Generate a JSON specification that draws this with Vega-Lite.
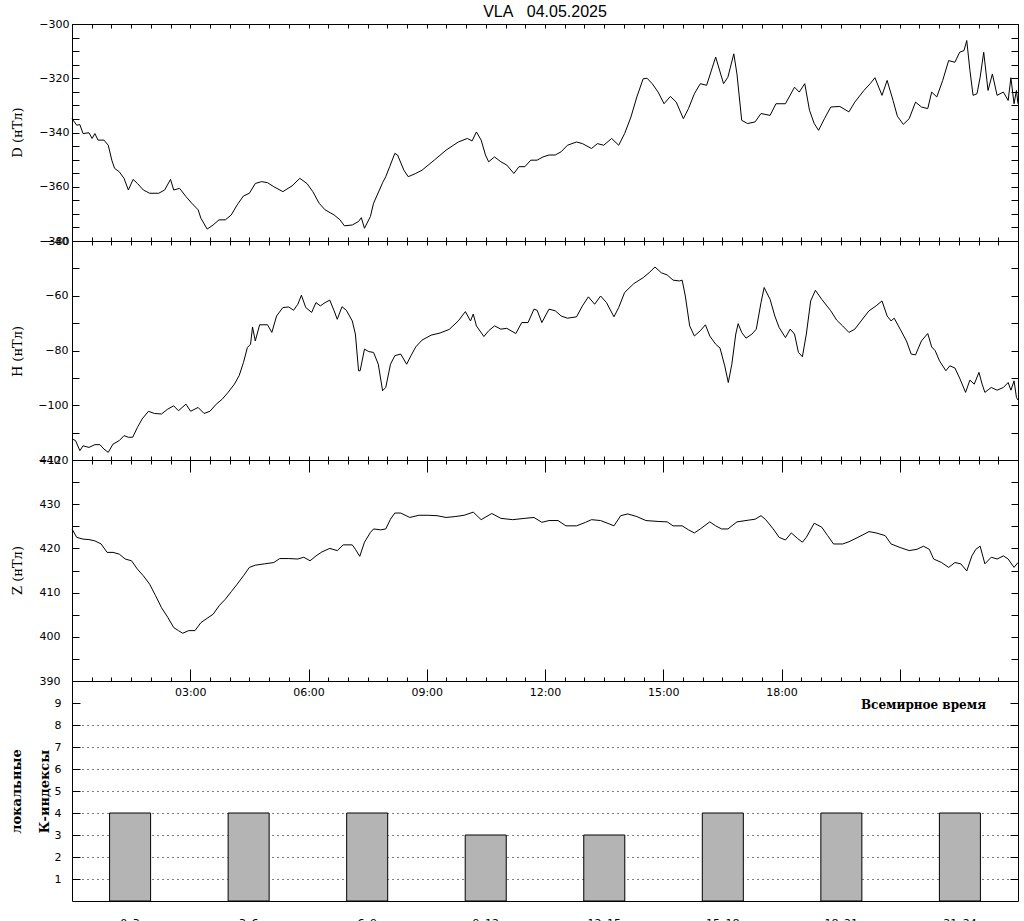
{
"$schema": "https://vega.github.io/schema/vega-lite/v6.json",
"autosize": {"type": "pad"},
"padding": {"left": 9, "top": 3, "right": 7, "bottom": 0},
"background": "white",
"title": {"text": "VLA\u00a0\u00a0\u00a004.05.2025", "anchor": "middle", "frame": "group", "font": "Liberation Sans", "fontSize": 16, "fontWeight": "normal", "color": "black", "offset": -2},
"spacing": 0,
"bounds": "flush",
"datasets": {
"D": [{"t":0.00,"v":-334.9},{"t":0.12,"v":-337.3},{"t":0.20,"v":-337.1},{"t":0.28,"v":-340.4},{"t":0.43,"v":-340.1},{"t":0.51,"v":-342.2},{"t":0.58,"v":-340.4},{"t":0.66,"v":-342.8},{"t":0.81,"v":-342.8},{"t":0.92,"v":-344.7},{"t":1.01,"v":-350.2},{"t":1.08,"v":-353.2},{"t":1.20,"v":-354.5},{"t":1.32,"v":-356.9},{"t":1.43,"v":-361.2},{"t":1.55,"v":-357.3},{"t":1.66,"v":-358.8},{"t":1.81,"v":-361.2},{"t":1.97,"v":-362.4},{"t":2.20,"v":-362.4},{"t":2.35,"v":-361.2},{"t":2.50,"v":-357.3},{"t":2.58,"v":-361.2},{"t":2.73,"v":-360.6},{"t":2.89,"v":-363.6},{"t":3.04,"v":-366.1},{"t":3.20,"v":-368.5},{"t":3.27,"v":-371.6},{"t":3.43,"v":-375.6},{"t":3.58,"v":-374.1},{"t":3.73,"v":-372.2},{"t":3.89,"v":-372.2},{"t":4.04,"v":-370.4},{"t":4.19,"v":-366.7},{"t":4.35,"v":-363.4},{"t":4.50,"v":-362.4},{"t":4.65,"v":-358.8},{"t":4.81,"v":-358.1},{"t":4.96,"v":-358.5},{"t":5.12,"v":-360.0},{"t":5.35,"v":-361.8},{"t":5.58,"v":-359.7},{"t":5.78,"v":-356.9},{"t":5.96,"v":-358.8},{"t":6.11,"v":-361.8},{"t":6.27,"v":-366.1},{"t":6.42,"v":-368.5},{"t":6.65,"v":-370.4},{"t":6.80,"v":-372.2},{"t":6.91,"v":-374.4},{"t":7.11,"v":-374.1},{"t":7.27,"v":-372.8},{"t":7.34,"v":-371.4},{"t":7.42,"v":-375.3},{"t":7.57,"v":-371.0},{"t":7.65,"v":-366.1},{"t":7.80,"v":-361.2},{"t":7.88,"v":-358.5},{"t":7.96,"v":-356.3},{"t":8.06,"v":-352.6},{"t":8.19,"v":-347.7},{"t":8.26,"v":-348.3},{"t":8.42,"v":-353.9},{"t":8.53,"v":-356.3},{"t":8.72,"v":-355.1},{"t":8.88,"v":-353.9},{"t":9.19,"v":-350.2},{"t":9.49,"v":-346.5},{"t":9.80,"v":-343.5},{"t":10.03,"v":-342.2},{"t":10.15,"v":-343.1},{"t":10.26,"v":-339.8},{"t":10.38,"v":-342.8},{"t":10.49,"v":-348.3},{"t":10.57,"v":-350.8},{"t":10.72,"v":-349.0},{"t":10.88,"v":-350.8},{"t":11.03,"v":-352.0},{"t":11.21,"v":-355.1},{"t":11.34,"v":-352.6},{"t":11.49,"v":-352.6},{"t":11.64,"v":-350.2},{"t":11.80,"v":-350.2},{"t":11.95,"v":-349.0},{"t":12.10,"v":-348.3},{"t":12.26,"v":-348.3},{"t":12.41,"v":-347.1},{"t":12.57,"v":-344.7},{"t":12.80,"v":-343.5},{"t":12.95,"v":-344.1},{"t":13.18,"v":-345.9},{"t":13.33,"v":-344.1},{"t":13.49,"v":-344.7},{"t":13.69,"v":-342.2},{"t":13.87,"v":-344.7},{"t":14.02,"v":-340.4},{"t":14.18,"v":-334.3},{"t":14.33,"v":-326.9},{"t":14.49,"v":-320.2},{"t":14.59,"v":-320.0},{"t":14.72,"v":-322.0},{"t":14.87,"v":-325.1},{"t":15.02,"v":-329.4},{"t":15.18,"v":-326.7},{"t":15.33,"v":-328.8},{"t":15.51,"v":-334.9},{"t":15.64,"v":-331.2},{"t":15.79,"v":-325.7},{"t":15.94,"v":-322.0},{"t":16.10,"v":-322.6},{"t":16.33,"v":-312.2},{"t":16.53,"v":-322.0},{"t":16.64,"v":-319.6},{"t":16.79,"v":-311.0},{"t":16.87,"v":-318.4},{"t":16.99,"v":-335.5},{"t":17.14,"v":-336.7},{"t":17.33,"v":-336.1},{"t":17.48,"v":-333.0},{"t":17.71,"v":-333.7},{"t":17.86,"v":-329.4},{"t":18.10,"v":-329.4},{"t":18.33,"v":-323.3},{"t":18.45,"v":-325.1},{"t":18.59,"v":-322.0},{"t":18.71,"v":-331.8},{"t":18.83,"v":-336.7},{"t":18.94,"v":-339.2},{"t":19.09,"v":-334.9},{"t":19.25,"v":-330.6},{"t":19.48,"v":-330.4},{"t":19.71,"v":-332.4},{"t":19.86,"v":-328.8},{"t":20.09,"v":-324.5},{"t":20.25,"v":-322.0},{"t":20.37,"v":-319.8},{"t":20.55,"v":-326.3},{"t":20.68,"v":-320.8},{"t":20.83,"v":-328.2},{"t":20.94,"v":-334.0},{"t":21.09,"v":-337.0},{"t":21.24,"v":-334.9},{"t":21.40,"v":-328.8},{"t":21.55,"v":-330.6},{"t":21.71,"v":-331.2},{"t":21.81,"v":-325.1},{"t":21.94,"v":-326.9},{"t":22.09,"v":-320.8},{"t":22.24,"v":-313.5},{"t":22.40,"v":-314.1},{"t":22.52,"v":-310.4},{"t":22.63,"v":-309.8},{"t":22.70,"v":-306.1},{"t":22.78,"v":-317.1},{"t":22.86,"v":-326.3},{"t":22.96,"v":-325.7},{"t":23.04,"v":-319.6},{"t":23.13,"v":-310.4},{"t":23.24,"v":-324.5},{"t":23.35,"v":-318.4},{"t":23.47,"v":-326.3},{"t":23.63,"v":-325.1},{"t":23.75,"v":-328.2},{"t":23.82,"v":-319.8},{"t":23.90,"v":-329.4},{"t":23.96,"v":-324.5},{"t":24.00,"v":-329.4}],
"H": [{"t":0.00,"v":-112.3},{"t":0.09,"v":-112.9},{"t":0.20,"v":-116.6},{"t":0.28,"v":-114.8},{"t":0.43,"v":-115.4},{"t":0.58,"v":-114.4},{"t":0.71,"v":-114.4},{"t":0.81,"v":-116.0},{"t":0.92,"v":-117.2},{"t":1.04,"v":-114.2},{"t":1.20,"v":-112.9},{"t":1.32,"v":-111.1},{"t":1.43,"v":-111.7},{"t":1.54,"v":-111.7},{"t":1.66,"v":-108.1},{"t":1.78,"v":-105.0},{"t":1.94,"v":-102.2},{"t":2.09,"v":-103.0},{"t":2.27,"v":-103.2},{"t":2.43,"v":-101.4},{"t":2.58,"v":-100.2},{"t":2.70,"v":-102.0},{"t":2.89,"v":-99.6},{"t":3.01,"v":-102.2},{"t":3.20,"v":-100.8},{"t":3.35,"v":-103.0},{"t":3.50,"v":-102.2},{"t":3.66,"v":-99.6},{"t":3.81,"v":-97.8},{"t":3.96,"v":-95.3},{"t":4.12,"v":-92.3},{"t":4.24,"v":-89.2},{"t":4.35,"v":-84.4},{"t":4.45,"v":-78.9},{"t":4.53,"v":-77.7},{"t":4.58,"v":-71.4},{"t":4.65,"v":-76.5},{"t":4.76,"v":-70.6},{"t":4.96,"v":-70.6},{"t":5.07,"v":-73.4},{"t":5.19,"v":-67.4},{"t":5.35,"v":-64.3},{"t":5.50,"v":-64.1},{"t":5.62,"v":-65.3},{"t":5.73,"v":-63.1},{"t":5.82,"v":-59.8},{"t":5.93,"v":-64.3},{"t":6.08,"v":-66.1},{"t":6.19,"v":-62.5},{"t":6.30,"v":-63.7},{"t":6.42,"v":-62.5},{"t":6.54,"v":-61.6},{"t":6.65,"v":-65.5},{"t":6.73,"v":-68.6},{"t":6.85,"v":-64.0},{"t":6.96,"v":-65.3},{"t":7.11,"v":-69.2},{"t":7.19,"v":-74.0},{"t":7.27,"v":-87.4},{"t":7.31,"v":-87.4},{"t":7.42,"v":-79.5},{"t":7.53,"v":-80.4},{"t":7.65,"v":-80.7},{"t":7.77,"v":-85.0},{"t":7.88,"v":-94.7},{"t":7.96,"v":-93.5},{"t":8.08,"v":-85.0},{"t":8.19,"v":-81.9},{"t":8.34,"v":-81.3},{"t":8.49,"v":-85.0},{"t":8.60,"v":-81.9},{"t":8.72,"v":-78.7},{"t":8.88,"v":-76.2},{"t":9.11,"v":-74.4},{"t":9.34,"v":-73.6},{"t":9.57,"v":-72.3},{"t":9.80,"v":-69.2},{"t":9.98,"v":-65.8},{"t":10.11,"v":-69.2},{"t":10.18,"v":-66.7},{"t":10.26,"v":-71.0},{"t":10.45,"v":-74.9},{"t":10.57,"v":-72.8},{"t":10.72,"v":-71.0},{"t":10.88,"v":-72.2},{"t":11.03,"v":-71.9},{"t":11.26,"v":-73.8},{"t":11.41,"v":-69.8},{"t":11.57,"v":-69.8},{"t":11.72,"v":-64.9},{"t":11.80,"v":-65.3},{"t":11.92,"v":-69.8},{"t":12.10,"v":-64.9},{"t":12.26,"v":-65.5},{"t":12.41,"v":-67.4},{"t":12.57,"v":-68.2},{"t":12.80,"v":-67.7},{"t":12.95,"v":-63.7},{"t":13.10,"v":-60.4},{"t":13.26,"v":-63.1},{"t":13.41,"v":-60.1},{"t":13.56,"v":-62.5},{"t":13.75,"v":-67.7},{"t":13.87,"v":-64.3},{"t":14.02,"v":-58.8},{"t":14.25,"v":-55.6},{"t":14.49,"v":-53.4},{"t":14.64,"v":-51.6},{"t":14.79,"v":-49.5},{"t":14.95,"v":-51.6},{"t":15.10,"v":-52.4},{"t":15.25,"v":-54.3},{"t":15.41,"v":-54.6},{"t":15.48,"v":-54.3},{"t":15.56,"v":-60.1},{"t":15.67,"v":-71.0},{"t":15.79,"v":-74.7},{"t":15.94,"v":-72.8},{"t":16.07,"v":-70.6},{"t":16.18,"v":-74.7},{"t":16.33,"v":-77.7},{"t":16.44,"v":-79.1},{"t":16.56,"v":-85.6},{"t":16.65,"v":-91.7},{"t":16.74,"v":-85.0},{"t":16.84,"v":-74.0},{"t":16.90,"v":-70.2},{"t":16.99,"v":-73.4},{"t":17.10,"v":-75.5},{"t":17.25,"v":-74.0},{"t":17.36,"v":-72.2},{"t":17.48,"v":-62.5},{"t":17.56,"v":-57.0},{"t":17.71,"v":-61.3},{"t":17.83,"v":-67.4},{"t":17.94,"v":-71.6},{"t":18.10,"v":-75.3},{"t":18.22,"v":-72.2},{"t":18.33,"v":-74.0},{"t":18.43,"v":-80.7},{"t":18.53,"v":-82.3},{"t":18.63,"v":-74.0},{"t":18.74,"v":-61.9},{"t":18.86,"v":-58.0},{"t":19.02,"v":-61.3},{"t":19.25,"v":-65.5},{"t":19.40,"v":-68.9},{"t":19.55,"v":-71.0},{"t":19.71,"v":-73.4},{"t":19.86,"v":-72.2},{"t":20.02,"v":-69.2},{"t":20.22,"v":-65.5},{"t":20.40,"v":-63.7},{"t":20.55,"v":-61.9},{"t":20.68,"v":-67.4},{"t":20.78,"v":-69.2},{"t":20.86,"v":-68.2},{"t":21.01,"v":-72.2},{"t":21.17,"v":-76.5},{"t":21.29,"v":-81.3},{"t":21.40,"v":-81.6},{"t":21.55,"v":-76.5},{"t":21.71,"v":-73.8},{"t":21.81,"v":-78.7},{"t":21.90,"v":-80.1},{"t":22.01,"v":-83.8},{"t":22.17,"v":-87.4},{"t":22.27,"v":-85.6},{"t":22.40,"v":-86.4},{"t":22.52,"v":-90.1},{"t":22.67,"v":-95.3},{"t":22.78,"v":-90.8},{"t":22.89,"v":-92.3},{"t":23.01,"v":-88.0},{"t":23.09,"v":-92.3},{"t":23.16,"v":-95.3},{"t":23.32,"v":-93.5},{"t":23.47,"v":-94.5},{"t":23.63,"v":-93.5},{"t":23.75,"v":-91.7},{"t":23.82,"v":-94.5},{"t":23.90,"v":-91.1},{"t":23.96,"v":-97.1},{"t":24.00,"v":-98.1}],
"Z": [{"t":0.00,"v":424.4},{"t":0.12,"v":422.5},{"t":0.28,"v":422.1},{"t":0.43,"v":422.0},{"t":0.58,"v":421.7},{"t":0.74,"v":421.0},{"t":0.89,"v":419.1},{"t":1.04,"v":419.1},{"t":1.20,"v":418.7},{"t":1.35,"v":417.6},{"t":1.51,"v":417.2},{"t":1.66,"v":415.3},{"t":1.81,"v":413.8},{"t":1.97,"v":411.9},{"t":2.12,"v":409.3},{"t":2.27,"v":406.6},{"t":2.43,"v":404.4},{"t":2.58,"v":402.1},{"t":2.70,"v":401.4},{"t":2.81,"v":400.8},{"t":2.96,"v":401.4},{"t":3.12,"v":401.4},{"t":3.27,"v":403.2},{"t":3.43,"v":404.2},{"t":3.58,"v":405.1},{"t":3.73,"v":407.0},{"t":3.89,"v":408.5},{"t":4.04,"v":410.2},{"t":4.19,"v":411.9},{"t":4.35,"v":413.8},{"t":4.50,"v":415.7},{"t":4.65,"v":416.2},{"t":4.88,"v":416.5},{"t":5.12,"v":416.8},{"t":5.27,"v":417.7},{"t":5.50,"v":417.7},{"t":5.73,"v":417.6},{"t":5.88,"v":418.0},{"t":6.04,"v":417.2},{"t":6.19,"v":418.3},{"t":6.34,"v":419.2},{"t":6.54,"v":420.0},{"t":6.73,"v":419.5},{"t":6.88,"v":420.8},{"t":7.11,"v":420.8},{"t":7.19,"v":419.8},{"t":7.30,"v":418.2},{"t":7.42,"v":421.4},{"t":7.57,"v":423.6},{"t":7.65,"v":424.4},{"t":7.83,"v":424.2},{"t":7.96,"v":424.4},{"t":8.08,"v":426.6},{"t":8.19,"v":428.0},{"t":8.34,"v":428.0},{"t":8.57,"v":427.0},{"t":8.80,"v":427.5},{"t":9.03,"v":427.5},{"t":9.26,"v":427.4},{"t":9.49,"v":427.0},{"t":9.72,"v":427.2},{"t":9.95,"v":427.5},{"t":10.18,"v":428.2},{"t":10.38,"v":426.5},{"t":10.65,"v":427.9},{"t":10.88,"v":426.8},{"t":11.18,"v":426.5},{"t":11.49,"v":426.8},{"t":11.72,"v":427.0},{"t":11.92,"v":425.9},{"t":12.10,"v":426.3},{"t":12.33,"v":426.3},{"t":12.53,"v":425.1},{"t":12.80,"v":425.1},{"t":13.03,"v":425.9},{"t":13.18,"v":426.5},{"t":13.41,"v":426.3},{"t":13.64,"v":425.5},{"t":13.75,"v":425.1},{"t":13.92,"v":427.4},{"t":14.10,"v":427.8},{"t":14.33,"v":427.2},{"t":14.56,"v":426.3},{"t":14.87,"v":426.1},{"t":15.10,"v":426.0},{"t":15.25,"v":425.1},{"t":15.48,"v":425.1},{"t":15.64,"v":424.2},{"t":15.79,"v":423.5},{"t":15.94,"v":424.4},{"t":16.18,"v":426.0},{"t":16.33,"v":425.1},{"t":16.48,"v":424.4},{"t":16.64,"v":424.4},{"t":16.87,"v":426.0},{"t":17.17,"v":426.4},{"t":17.33,"v":426.6},{"t":17.48,"v":427.4},{"t":17.60,"v":426.5},{"t":17.79,"v":424.4},{"t":17.94,"v":422.5},{"t":18.10,"v":421.9},{"t":18.25,"v":423.5},{"t":18.40,"v":422.3},{"t":18.53,"v":421.4},{"t":18.63,"v":422.5},{"t":18.83,"v":425.7},{"t":19.02,"v":424.8},{"t":19.17,"v":422.9},{"t":19.32,"v":421.0},{"t":19.55,"v":421.0},{"t":19.71,"v":421.5},{"t":19.94,"v":422.5},{"t":20.22,"v":423.8},{"t":20.40,"v":423.5},{"t":20.63,"v":422.9},{"t":20.78,"v":421.0},{"t":21.01,"v":420.2},{"t":21.24,"v":419.5},{"t":21.44,"v":419.8},{"t":21.60,"v":420.5},{"t":21.75,"v":419.8},{"t":21.86,"v":417.6},{"t":22.06,"v":416.8},{"t":22.24,"v":415.7},{"t":22.40,"v":416.8},{"t":22.55,"v":416.5},{"t":22.70,"v":414.9},{"t":22.83,"v":418.3},{"t":22.93,"v":419.8},{"t":23.04,"v":420.5},{"t":23.16,"v":416.5},{"t":23.32,"v":418.0},{"t":23.47,"v":417.6},{"t":23.63,"v":418.3},{"t":23.75,"v":417.6},{"t":23.86,"v":416.2},{"t":23.90,"v":415.7},{"t":24.00,"v":416.8}],
"K": [{"p":"0–3","k":4},{"p":"3–6","k":4},{"p":"6–9","k":4},{"p":"9–12","k":3},{"p":"12–15","k":3},{"p":"15–18","k":4},{"p":"18–21","k":4},{"p":"21–24","k":4}]
},
"vconcat": [
{
"width": 946, "height": 217,
"data": {"name": "D"},
"layer": [
{"mark": {"type": "line"},
 "encoding": {
  "x": {"field": "t", "type": "quantitative", "scale": {"domain": [0, 24], "nice": false, "zero": false},
        "axis": {"orient": "bottom", "values": [0,0.5,1,1.5,2,2.5,3,3.5,4,4.5,5,5.5,6,6.5,7,7.5,8,8.5,9,9.5,10,10.5,11,11.5,12,12.5,13,13.5,14,14.5,15,15.5,16,16.5,17,17.5,18,18.5,19,19.5,20,20.5,21,21.5,22,22.5,23,23.5,24], "labels": false, "tickSize": -4, "title": null}},
  "y": {"field": "v", "type": "quantitative", "scale": {"domain": [-380, -300], "nice": false, "zero": false},
        "axis": {"orient": "left", "values": [-380,-375,-370,-365,-360,-355,-350,-345,-340,-335,-330,-325,-320,-315,-310,-305,-300], "tickSize": -7, "labelPadding": 10, "labelExpr": "datum.value % 20 === 0 ? datum.label : ''", "title": "D (нТл)", "titleFont": "DejaVu Serif", "titleFontSize": 13, "titleFontWeight": "normal", "titleX": -48, "titleY": 108, "titleAngle": -90, "titleBaseline": "bottom", "titleAlign": "center"}}
 }},
{"mark": {"type": "line", "strokeOpacity": 0},
 "encoding": {
  "x": {"field": "t", "type": "quantitative", "scale": {"domain": [0, 24], "nice": false, "zero": false},
        "axis": {"orient": "top", "values": [0,0.5,1,1.5,2,2.5,3,3.5,4,4.5,5,5.5,6,6.5,7,7.5,8,8.5,9,9.5,10,10.5,11,11.5,12,12.5,13,13.5,14,14.5,15,15.5,16,16.5,17,17.5,18,18.5,19,19.5,20,20.5,21,21.5,22,22.5,23,23.5,24], "labels": false, "tickSize": -4, "title": null}},
  "y": {"field": "v", "type": "quantitative", "scale": {"domain": [-380, -300], "nice": false, "zero": false},
        "axis": {"orient": "right", "values": [-380,-375,-370,-365,-360,-355,-350,-345,-340,-335,-330,-325,-320,-315,-310,-305,-300], "tickSize": -7, "labels": false, "title": null}}
 }}
],
"resolve": {"axis": {"x": "independent", "y": "independent"}}
},
{
"width": 946, "height": 219,
"data": {"name": "H"},
"layer": [
{"mark": {"type": "line"},
 "encoding": {
  "x": {"field": "t", "type": "quantitative", "scale": {"domain": [0, 24], "nice": false, "zero": false},
        "axis": {"orient": "bottom", "values": [0,0.5,1,1.5,2,2.5,3,3.5,4,4.5,5,5.5,6,6.5,7,7.5,8,8.5,9,9.5,10,10.5,11,11.5,12,12.5,13,13.5,14,14.5,15,15.5,16,16.5,17,17.5,18,18.5,19,19.5,20,20.5,21,21.5,22,22.5,23,23.5,24], "labels": false, "tickSize": -4, "title": null}},
  "y": {"field": "v", "type": "quantitative", "scale": {"domain": [-120, -40], "nice": false, "zero": false},
        "axis": {"orient": "left", "values": [-120,-110,-100,-90,-80,-70,-60,-50,-40], "tickSize": -7, "labelPadding": 11, "labelExpr": "datum.value % 20 === 0 ? datum.label : ''", "title": "H (нТл)", "titleFont": "DejaVu Serif", "titleFontSize": 13, "titleFontWeight": "normal", "titleX": -48, "titleY": 110, "titleAngle": -90, "titleBaseline": "bottom", "titleAlign": "center"}}
 }},
{"mark": {"type": "line", "strokeOpacity": 0},
 "encoding": {
  "x": {"field": "t", "type": "quantitative", "scale": {"domain": [0, 24], "nice": false, "zero": false},
        "axis": {"orient": "top", "values": [0,0.5,1,1.5,2,2.5,3,3.5,4,4.5,5,5.5,6,6.5,7,7.5,8,8.5,9,9.5,10,10.5,11,11.5,12,12.5,13,13.5,14,14.5,15,15.5,16,16.5,17,17.5,18,18.5,19,19.5,20,20.5,21,21.5,22,22.5,23,23.5,24], "labels": false, "tickSize": -4, "title": null}},
  "y": {"field": "v", "type": "quantitative", "scale": {"domain": [-120, -40], "nice": false, "zero": false},
        "axis": {"orient": "right", "values": [-120,-110,-100,-90,-80,-70,-60,-50,-40], "tickSize": -7, "labels": false, "title": null}}
 }}
],
"resolve": {"axis": {"x": "independent", "y": "independent"}}
},
{
"width": 946, "height": 221,
"data": {"name": "Z"},
"layer": [
{"mark": {"type": "line"},
 "encoding": {
  "x": {"field": "t", "type": "quantitative", "scale": {"domain": [0, 24], "nice": false, "zero": false},
        "axis": {"orient": "bottom", "values": [0,0.5,1,1.5,2,2.5,3,3.5,4,4.5,5,5.5,6,6.5,7,7.5,8,8.5,9,9.5,10,10.5,11,11.5,12,12.5,13,13.5,14,14.5,15,15.5,16,16.5,17,17.5,18,18.5,19,19.5,20,20.5,21,21.5,22,22.5,23,23.5,24], "labels": false, "tickSize": -4, "title": null}},
  "y": {"field": "v", "type": "quantitative", "scale": {"domain": [390, 440], "nice": false, "zero": false},
        "axis": {"orient": "left", "values": [390,395,400,405,410,415,420,425,430,435,440], "tickSize": -7, "labelPadding": 19, "labelExpr": "datum.value % 10 === 0 ? datum.label : ''", "title": "Z (нТл)", "titleFont": "DejaVu Serif", "titleFontSize": 13, "titleFontWeight": "normal", "titleX": -48, "titleY": 110, "titleAngle": -90, "titleBaseline": "bottom", "titleAlign": "center"}}
 }},
{"mark": {"type": "line", "strokeOpacity": 0},
 "encoding": {
  "x": {"field": "t", "type": "quantitative", "scale": {"domain": [0, 24], "nice": false, "zero": false},
        "axis": {"orient": "top", "values": [0,0.5,1,1.5,2,2.5,3,3.5,4,4.5,5,5.5,6,6.5,7,7.5,8,8.5,9,9.5,10,10.5,11,11.5,12,12.5,13,13.5,14,14.5,15,15.5,16,16.5,17,17.5,18,18.5,19,19.5,20,20.5,21,21.5,22,22.5,23,23.5,24], "labels": false, "tickSize": -4, "title": null}},
  "y": {"field": "v", "type": "quantitative", "scale": {"domain": [390, 440], "nice": false, "zero": false},
        "axis": {"orient": "right", "values": [390,395,400,405,410,415,420,425,430,435,440], "tickSize": -7, "labels": false, "title": null}}
 }},
{"mark": {"type": "line", "strokeOpacity": 0},
 "encoding": {
  "x": {"field": "t", "type": "quantitative", "scale": {"domain": [0, 24], "nice": false, "zero": false},
        "axis": {"orient": "bottom", "values": [3,6,9,12,15,18,21], "tickSize": -12, "labelPadding": 17, "labelBaseline": "top", "labelExpr": "datum.value <= 18 ? (datum.value < 10 ? '0' : '') + datum.value + ':00' : ''", "title": "Всемирное время", "titleFont": "DejaVu Serif", "titleFontSize": 12, "titleFontWeight": "bold", "titleX": 851, "titleY": 23, "titleAngle": 0, "titleAlign": "center", "titleBaseline": "middle"}},
  "y": {"field": "v", "type": "quantitative", "scale": {"domain": [390, 440], "nice": false, "zero": false}, "axis": null}
 }},
{"mark": {"type": "line", "strokeOpacity": 0},
 "encoding": {
  "x": {"field": "t", "type": "quantitative", "scale": {"domain": [0, 24], "nice": false, "zero": false},
        "axis": {"orient": "top", "values": [3,6,9,12,15,18,21], "tickSize": -12, "labels": false, "title": null}},
  "y": {"field": "v", "type": "quantitative", "scale": {"domain": [390, 440], "nice": false, "zero": false}, "axis": null}
 }}
],
"resolve": {"axis": {"x": "independent", "y": "independent"}}
},
{
"width": 946, "height": 220,
"data": {"name": "K"},
"encoding": {
  "x": {"field": "p", "type": "nominal", "sort": null, "scale": {"paddingInner": 0.654, "paddingOuter": 0.317},
        "axis": {"orient": "bottom", "ticks": false, "labelPadding": 16, "labelAngle": 0, "labelBaseline": "top", "title": null}}
},
"layer": [
{"mark": {"type": "bar", "opacity": 0},
 "encoding": {
  "y": {"field": "k", "type": "quantitative", "scale": {"domain": [0, 10], "nice": false},
        "axis": {"orient": "left", "values": [1,2,3,4,5,6,7,8], "grid": true, "gridDash": [1, 4], "gridColor": "black", "gridWidth": 1, "gridOpacity": 1, "ticks": false, "labels": false, "title": null}}
 }},
{"mark": {"type": "bar", "fill": "#b4b4b4", "stroke": "black", "strokeWidth": 1},
 "encoding": {
  "y": {"field": "k", "type": "quantitative", "scale": {"domain": [0, 10], "nice": false},
        "axis": {"orient": "left", "values": [1,2,3,4,5,6,7,8,9], "tickSize": -8, "labelPadding": 19, "title": ["локальные", "К-индексы"], "titleFont": "DejaVu Serif", "titleFontSize": 13, "titleFontWeight": "bold", "titleLineHeight": 28, "titleX": -49, "titleY": 110, "titleAngle": -90, "titleBaseline": "bottom", "titleAlign": "center"}}
 }},
{"mark": {"type": "bar", "opacity": 0},
 "encoding": {
  "y": {"field": "k", "type": "quantitative", "scale": {"domain": [0, 10], "nice": false},
        "axis": {"orient": "right", "values": [1,2,3,4,5,6,7,8,9], "tickSize": -8, "labels": false, "title": null}}
 }}
],
"resolve": {"axis": {"y": "independent"}}
}
],
"config": {
"view": {"stroke": "black", "strokeWidth": 1},
"axis": {"domain": false, "grid": false, "labelFont": "DejaVu Sans", "labelFontSize": 11, "labelColor": "black", "tickColor": "black", "tickWidth": 1, "labelOverlap": false, "labelFlush": false, "labelBound": false, "titleColor": "black"},
"line": {"color": "black", "strokeWidth": 1}
}
}
